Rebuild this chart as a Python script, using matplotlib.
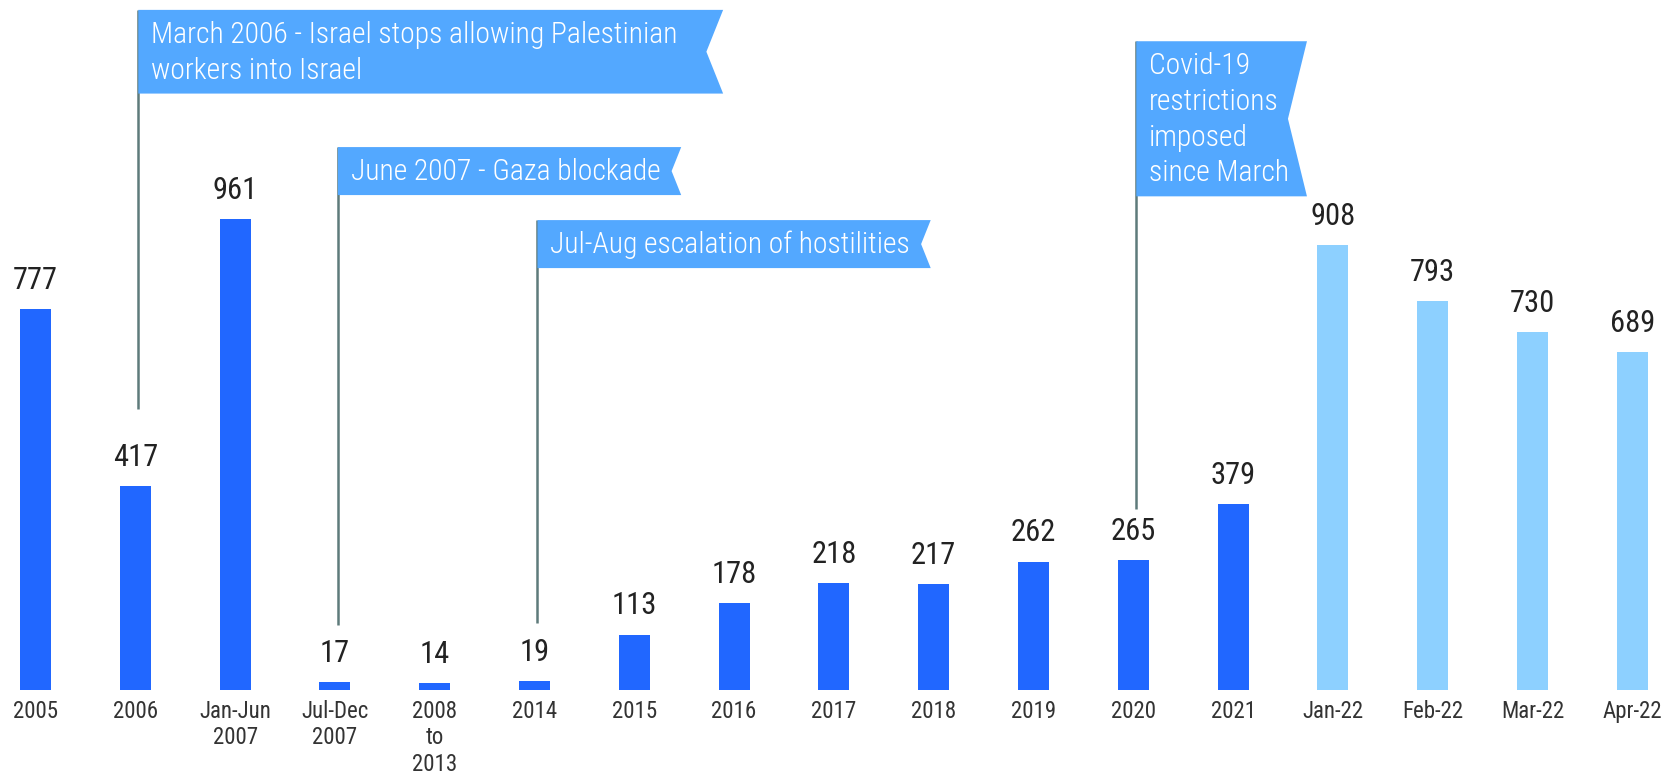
import matplotlib
matplotlib.use("Agg")
import matplotlib.pyplot as plt
from matplotlib import font_manager as fm
from matplotlib.patches import Polygon
from matplotlib.transforms import IdentityTransform

# ---------------- data ----------------
categories = ["2005", "2006", "Jan-Jun\n2007", "Jul-Dec\n2007", "2008\nto\n2013", "2014",
              "2015", "2016", "2017", "2018", "2019", "2020", "2021",
              "Jan-22", "Feb-22", "Mar-22", "Apr-22"]
values = [777, 417, 961, 17, 14, 19, 113, 178, 218, 217, 262, 265, 379,
          908, 793, 730, 689]
monthly = [False] * 13 + [True] * 4

event_texts = ["March 2006 - Israel stops allowing Palestinian\nworkers into Israel",
               "June 2007 - Gaza blockade",
               "Jul-Aug escalation of hostilities",
               "Covid-19\nrestrictions\nimposed\nsince March"]
event_bar = [1, 3, 5, 11]
# banner top, banner right edge, pole bottom (data units)
event_top = [1388, 1108, 959, 1324]
event_right = [6.89, 6.47, 8.97, 12.74]
event_pole_bottom = [573, 133, 137, 369]

# ---------------- style ----------------
names = {f.name for f in fm.fontManager.ttflist}
FONT = "DejaVu Sans"
for cand in ["Roboto Condensed", "Liberation Sans Narrow", "Roboto"]:
    if cand in names:
        FONT = cand
        break
plt.rcParams["font.family"] = [FONT, "DejaVu Sans"]
light_ok = any(f.name == FONT and f.weight in (300, "light") for f in fm.fontManager.ttflist)
BANNER_WEIGHT = "light" if light_ok else "normal"

DARK = "#2167FF"
LIGHT = "#8DD0FF"
BANNER = "#53A8FF"
POLE = "#5E7B7B"

W, H = 1669, 783
fig = plt.figure(figsize=(W / 100, H / 100), dpi=100)
base_px = 690
ax = fig.add_axes([0, (H - base_px) / H, 1, base_px / H])
px_per_unit = 0.49
step = 99.8
x0 = 35.5
ax.set_xlim(-x0 / step, (W - x0) / step)
ax.set_ylim(0, base_px / px_per_unit)
for s in ax.spines.values():
    s.set_visible(False)
ax.set_yticks([])

xs = list(range(len(categories)))
colors = [LIGHT if m else DARK for m in monthly]
ax.bar(xs, values, width=0.31, color=colors, zorder=2)

ax.set_xticks(xs)
ax.set_xticklabels(categories, fontsize=16.5, color="#333333", linespacing=1.2)
ax.tick_params(axis="x", length=0, pad=7)

for x, v in zip(xs, values):
    ax.annotate(str(v), (x, v), xytext=(0, 14.5), textcoords="offset points",
                ha="center", va="baseline", fontsize=22, color="#222222")

# event banners
LINE_GAP = 35.7   # px between text lines
FIRST_BASE = 33   # px from banner top to first baseline
BOTTOM_PAD = 15   # px from last baseline to banner bottom
for txt, b, top, right, pb in zip(event_texts, event_bar, event_top, event_right, event_pole_bottom):
    px = b + 0.03
    ax.plot([px, px], [pb, top], color=POLE, lw=1.8, zorder=3, solid_capstyle="butt")
    (lx, ty) = ax.transData.transform((px, top))
    (rx, _) = ax.transData.transform((right, top))
    lines = txt.split("\n")
    for k, line in enumerate(lines):
        fig.text(lx + 13, ty - FIRST_BASE - k * LINE_GAP, line, transform=IdentityTransform(),
                 fontsize=21.3, fontweight=BANNER_WEIGHT, color="white",
                 ha="left", va="baseline", zorder=5)
    bot = ty - FIRST_BASE - (len(lines) - 1) * LINE_GAP - BOTTOM_PAD
    h = ty - bot
    notch = min(0.2 * h, 19)
    poly = Polygon([(lx, ty), (rx, ty), (rx - notch, (ty + bot) / 2), (rx, bot), (lx, bot)],
                   closed=True, facecolor=BANNER, edgecolor="none",
                   transform=IdentityTransform(), zorder=4)
    fig.patches.append(poly)

fig.savefig("out.png", dpi=100, facecolor="white")
